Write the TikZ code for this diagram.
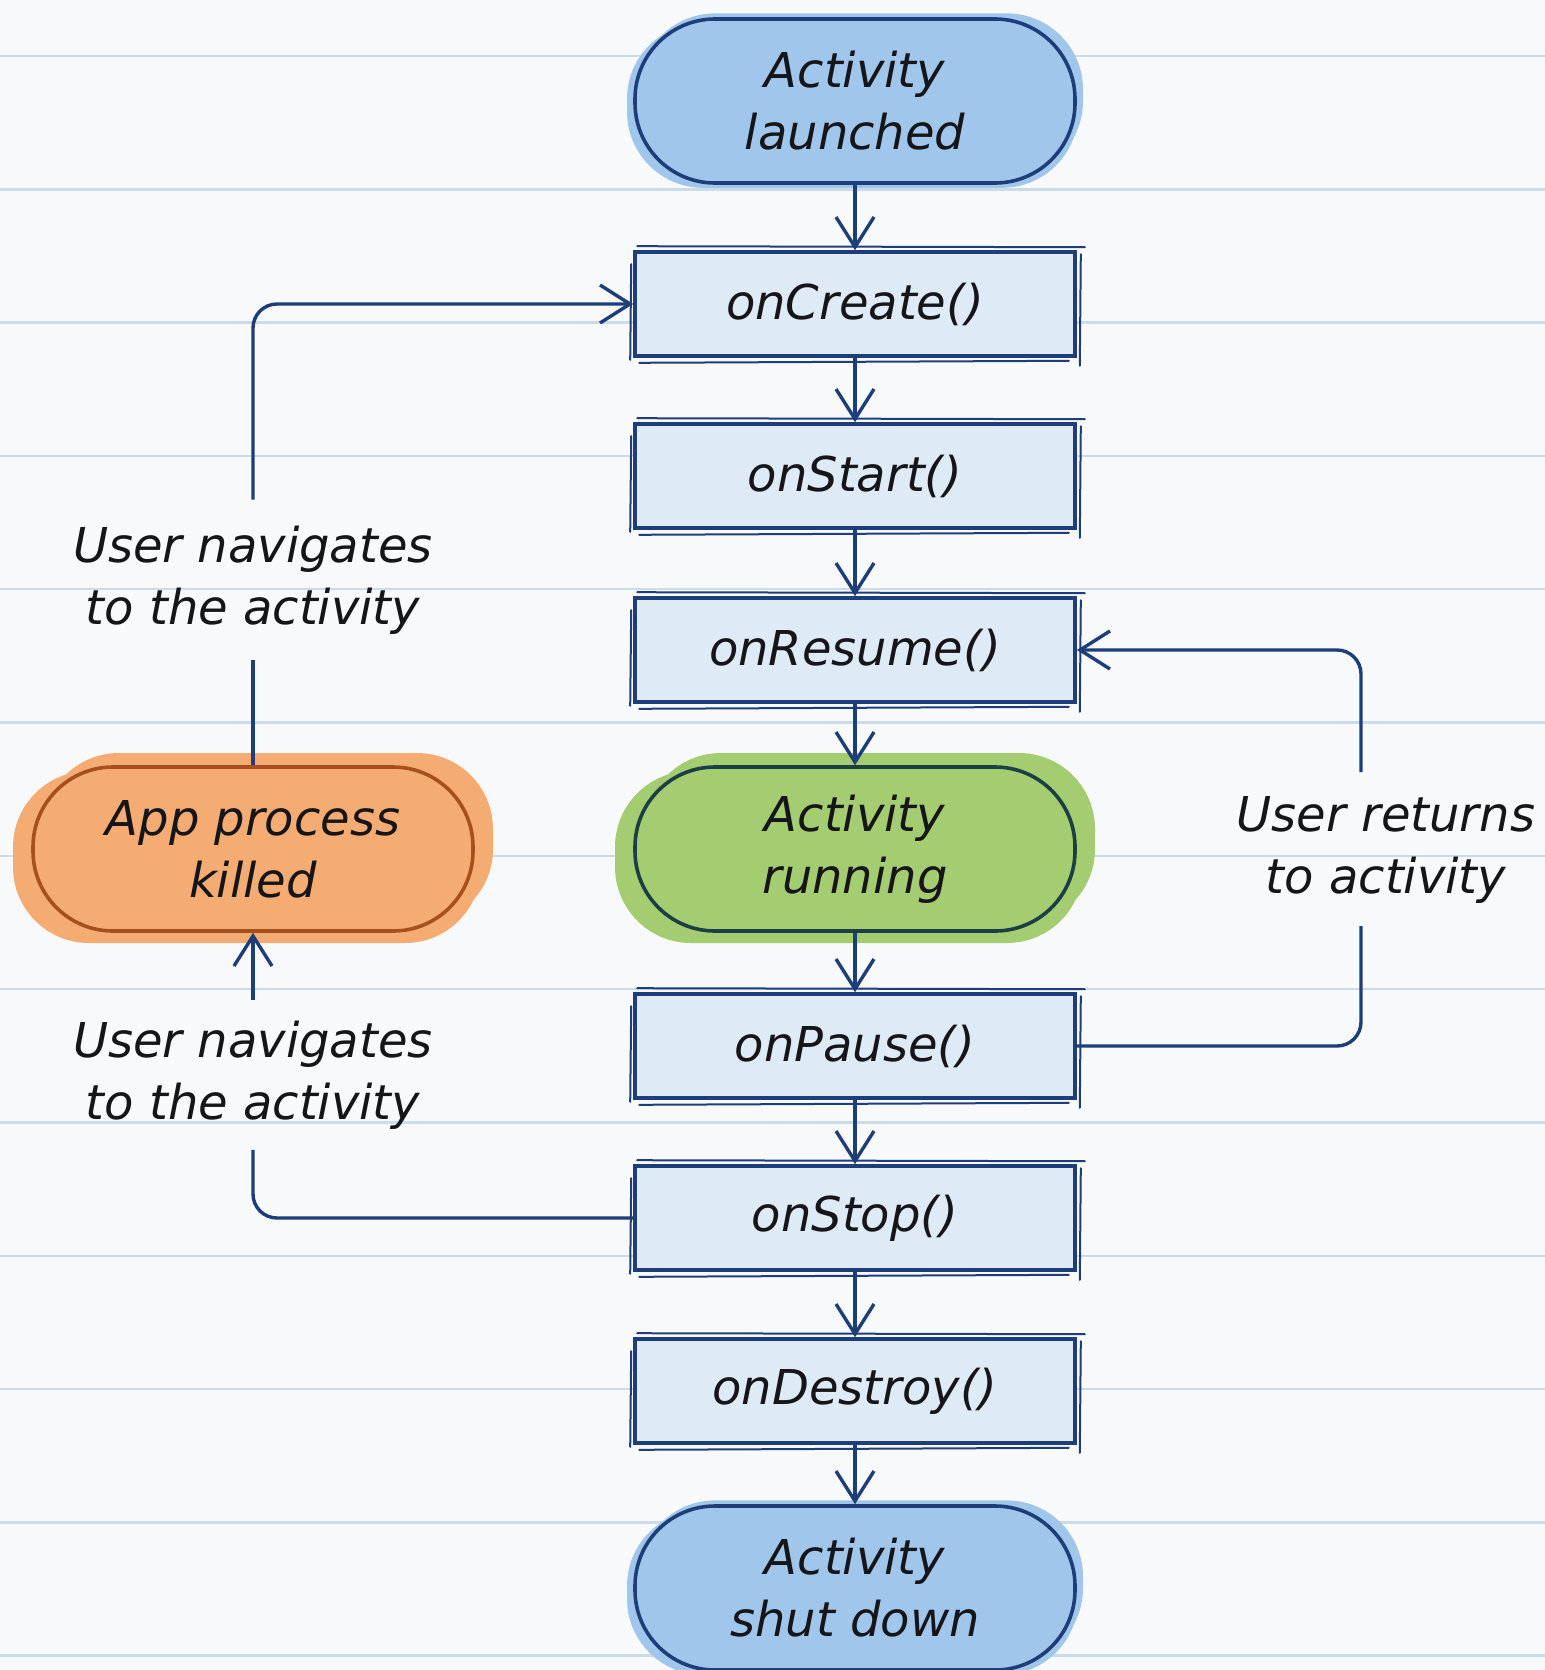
\documentclass[tikz,border=0pt]{standalone}
\usepackage{fontspec}
\setmainfont{DejaVu Sans}
\usetikzlibrary{arrows.meta,calc}

\definecolor{paper}{RGB}{248,249,250}
\definecolor{rulecol}{RGB}{204,219,232}
\definecolor{ink}{RGB}{30,62,122}
\definecolor{boxfill}{RGB}{222,234,246}
\definecolor{startfill}{RGB}{160,199,235}
\definecolor{runfill}{RGB}{163,205,112}
\definecolor{runline}{RGB}{30,62,70}
\definecolor{killfill}{RGB}{244,172,114}
\definecolor{killline}{RGB}{165,80,30}
\definecolor{textcol}{RGB}{22,22,26}

\tikzset{
  lbl/.style={font=\itshape\fontsize{24}{31}\selectfont, text=textcol, align=center},
  stepbox/.style={lbl, rectangle, draw=ink, line width=1.8pt, fill=boxfill,
    minimum width=220pt, minimum height=52pt, inner sep=0pt},
  stadium/.style={lbl, rectangle, rounded corners=40pt, line width=1.8pt,
    minimum width=220pt, minimum height=82pt, inner sep=0pt},
  conn/.style={draw=ink, line width=1.7pt, rounded corners=12pt},
  arrowed/.style={-{Straight Barb[length=15pt,width=19pt,line width=1.7pt]}},
  edgeline/.style={line width=1pt, line cap=round},
}

% colour wash that spills a little past a rounded node (centre x, centre y, spill, colour)
\newcommand\wash[4]{%
  \fill[#4, rounded corners=38pt] (#1-220-#3,#2-78) rectangle (#1+220+#3*0.4,#2+82+#3*0.6);
  \fill[#4, rounded corners=38pt] (#1-220+#3*0.5,#2-82-#3*0.7) rectangle (#1+220+#3,#2+76);
}
% second pen stroke running along the edges of a step box
\newcommand\handlines[1]{%
  \draw[ink, edgeline]
    ($(#1.north west)+(4,-4)$) -- ($(#1.north east)+(8,-3)$)
    ($(#1.north east)+(4,4)$) -- ($(#1.south east)+(3,8)$)
    ($(#1.south east)+(-8,3)$) -- ($(#1.south west)+(6,5)$)
    ($(#1.south west)+(-3,2)$) -- ($(#1.north west)+(-2,14)$);
}

\begin{document}
\begin{tikzpicture}[x=0.5pt,y=-0.5pt]
  % ruled paper
  \fill[paper] (0,0) rectangle (1545,1670);
  \useasboundingbox (0,0) rectangle (1545,1670);
  \foreach \k in {0,...,12}
    \draw[rulecol, line width=1.2pt] (0,56+133.3*\k) -- (1545,56+133.3*\k);

  % colour washes
  \wash{855}{101}{8}{startfill}
  \wash{855}{849}{20}{runfill}
  \wash{253}{849}{20}{killfill}
  \wash{855}{1588}{8}{startfill}

  % main lifecycle column
  \node[stadium, draw=ink, fill=startfill] (launched) at (855,101) {Activity\\launched};
  \node[stepbox] (create)  at (855,304)  {onCreate()};
  \node[stepbox] (start)   at (855,476)  {onStart()};
  \node[stepbox] (resume)  at (855,650)  {onResume()};
  \node[stadium, draw=runline, fill=runfill] (running) at (855,849) {Activity\\running};
  \node[stepbox] (pause)   at (855,1046) {onPause()};
  \node[stepbox] (stop)    at (855,1218) {onStop()};
  \node[stepbox] (destroy) at (855,1391) {onDestroy()};
  \node[stadium, draw=ink, fill=startfill] (shutdown) at (855,1588) {Activity\\shut down};

  % side states and labels
  \node[stadium, draw=killline, fill=killfill] (killed) at (253,849) {App process\\killed};
  \node[lbl, minimum height=80pt, inner sep=0pt] (navA) at (253,580) {User navigates\\to the activity};
  \node[lbl, minimum height=74.5pt, inner sep=0pt] (navB) at (253,1075) {User navigates\\to the activity};
  \node[lbl, inner sep=0pt] (ret) at (1386,850) {User returns\\to activity};
  \coordinate (retLo) at (1361,926);
  \coordinate (retHi) at (1361,772);

  \foreach \n in {create,start,resume,pause,stop,destroy} { \handlines{\n} }

  % straight flow
  \draw[conn, arrowed] (launched.south) -- (create.north);
  \draw[conn, arrowed] (create.south) -- (start.north);
  \draw[conn, arrowed] (start.south) -- (resume.north);
  \draw[conn, arrowed] (resume.south) -- (running.north);
  \draw[conn, arrowed] (running.south) -- (pause.north);
  \draw[conn, arrowed] (pause.south) -- (stop.north);
  \draw[conn, arrowed] (stop.south) -- (destroy.north);
  \draw[conn, arrowed] (destroy.south) -- (shutdown.north);

  % loops
  \draw[conn] (killed.north) -- (navA.south);
  \draw[conn, arrowed] (navA.north) |- (create.west);
  \draw[conn] (stop.west) -| (navB.south);
  \draw[conn, arrowed] (navB.north) -- (killed.south);
  \draw[conn] (pause.east) -| (retLo);
  \draw[conn, arrowed] (retHi) |- (resume.east);
\end{tikzpicture}
\end{document}
